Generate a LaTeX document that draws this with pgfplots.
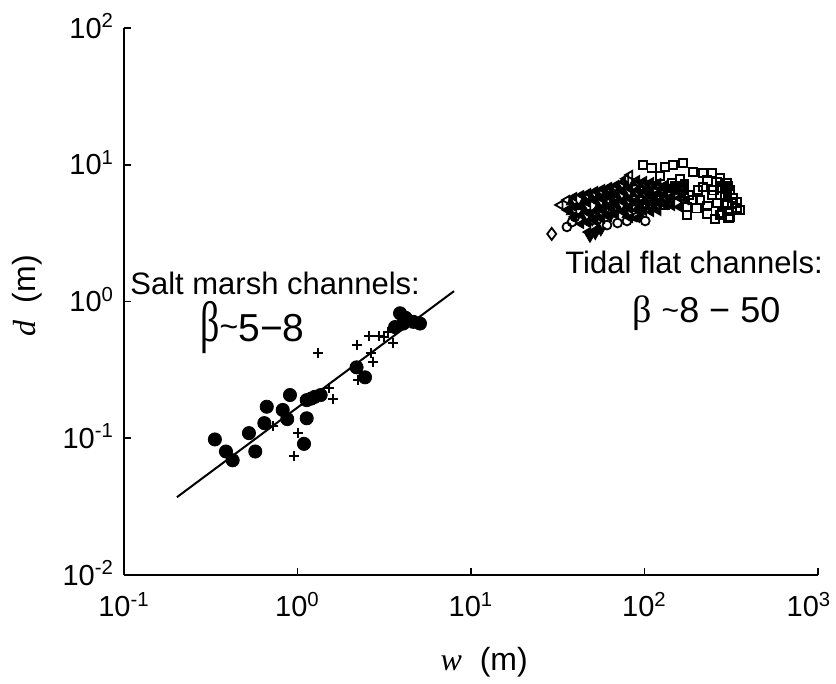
\documentclass[border=0pt]{standalone}
\usepackage{fontspec}
\setmainfont{Liberation Sans}
\newfontfamily\serif{Liberation Serif}
\usepackage{graphicx}
\usepackage{pgfplots}
\pgfplotsset{compat=1.18}

\begin{document}
\begin{tikzpicture}
\useasboundingbox (0,0) rectangle (418pt,342pt);
\begin{axis}[
  at={(62pt,54.5pt)}, anchor=south west,
  scale only axis, width=347pt, height=273.5pt,
  xmode=log, ymode=log,
  xmin=0.1, xmax=1000, ymin=0.01, ymax=100,
  axis x line=bottom, axis y line=left,
  axis line style={-, line width=1pt},
  tick style={black, line width=0.9pt},
  tick align=inside, major tick length=3.5pt,
  xminorticks=false, yminorticks=false,
  xtick={0.1,1,10,100,1000}, ytick={0.01,0.1,1,10,100},
  xticklabels={10\textsuperscript{-1},10\textsuperscript{0},10\textsuperscript{1},10\textsuperscript{2},\hspace*{-9pt}10\textsuperscript{3}},
  yticklabels={10\textsuperscript{-2},10\textsuperscript{-1},10\textsuperscript{0},10\textsuperscript{1},10\textsuperscript{2}},
  tick label style={font=\fontsize{14.5}{16}\selectfont},
  xticklabel style={yshift=-5pt},
  yticklabel style={xshift=-1.5pt, yshift=1pt},
  xlabel={{\serif\itshape w}\ \ (m)},
  ylabel={{\serif\itshape d}\ \ (m)},
  label style={font=\fontsize{16}{18}\selectfont},
  xlabel style={at={(axis description cs:0.519,-0.159)}, anchor=center},
  ylabel style={at={(axis description cs:-0.140,0.510)}, anchor=center},
  clip=false,
]
% salt marsh: filled circles
\addplot[only marks, mark=*, mark size=3.3pt, black] coordinates {
 (0.334,0.098) (0.387,0.080) (0.423,0.069) (0.525,0.109) (0.571,0.080)
 (0.644,0.129) (0.665,0.170) (0.822,0.161) (0.873,0.138) (0.905,0.207)
 (1.13,0.140) (1.13,0.190) (1.26,0.201) (1.36,0.207) (1.09,0.091)
 (2.19,0.330) (2.45,0.279) (3.90,0.82) (4.07,0.69) (4.65,0.71)
 (5.08,0.69) (3.65,0.65) (4.2,0.76) (1.2,0.195)};
% salt marsh: plus
\addplot[only marks, mark=+, mark size=2.5pt, black, line width=1pt] coordinates {
 (1.32,0.418) (2.21,0.481) (2.59,0.56) (2.96,0.56) (3.15,0.55)
 (3.54,0.50) (2.64,0.42) (2.71,0.363) (2.24,0.267) (1.52,0.232)
 (1.61,0.193) (1.01,0.109) (0.955,0.074) (0.726,0.122) (3.33,0.60)};
% fit line
\addplot[black, line width=1pt] coordinates {(0.202,0.0371) (7.98,1.19)};

% tidal flat: left triangles (dense core)
\addplot[only marks, mark=triangle*, mark size=2.3pt, black, line width=0.8pt,
  mark options={rotate=90}] coordinates {
 (35.7,4.67) (39.2,5.81) (39.2,4.91) (39.2,4.15)
 (43.1,6.01) (43.1,5.08) (43.1,4.29) (43.1,3.69)
 (47.2,6.21) (47.2,5.25) (47.2,4.44) (47.2,3.75) (47.2,3.22)
 (51.9,6.43) (51.9,5.43) (51.9,4.59) (51.9,3.88) (51.9,3.33)
 (56.9,6.65) (56.9,5.62) (56.9,4.75) (56.9,4.01)
 (62.4,6.88) (62.4,5.81) (62.4,4.91) (62.4,4.15)
 (68.5,7.11) (68.5,6.01) (68.5,5.08) (68.5,4.29)
 (75.2,7.48) (75.2,6.32) (75.2,5.34) (75.2,4.51)
 (82.4,6.65) (82.4,5.62) (82.4,4.75) (82.4,4.08)
 (90.5,7.73) (90.5,6.54) (90.5,5.52) (90.5,4.67) (90.5,4.08)
 (99.3,7.60) (99.3,6.43) (99.3,5.43) (99.3,4.59)
 (109,7.48) (109,6.32) (109,5.34) (109,4.51)
 (120,7.36) (120,6.21) (120,5.25) (120,4.59)
 (131,7.11) (131,6.01) (131,5.08)
 (144,7.00) (144,5.91) (144,4.99)
 (158,6.76) (158,5.71) (158,4.91)
 (173,6.54) (173,5.52)};
% tidal flat: open left triangles at the edges
\addplot[only marks, mark=triangle, mark size=2.4pt, black, line width=0.9pt,
  mark options={rotate=90}] coordinates {
 (32.6,5.08) (35.7,5.52) (82.4,8.41) (78,7.9) (58,4.6) (95,5.2) (125,6.6)};
% tidal flat: filled triangles
\addplot[only marks, mark=triangle*, mark size=2.5pt, black] coordinates {
 (37.5,5.3) (37.5,4.5) (41,4.9) (45.1,5.6) (45.1,4.7) (45.1,3.9)
 (49.5,5.8) (49.5,4.1) (54.3,6.0) (54.3,5.0) (54.3,4.2) (54.3,3.5)
 (59.5,6.2) (59.5,5.2) (59.5,4.4)
 (65.4,6.4) (65.4,5.4) (65.4,4.5) (71.5,6.7) (71.5,5.6) (71.5,4.7)
 (78.7,7.0) (78.7,5.9) (78.7,5.0) (78.7,4.3) (86,7.3) (86,6.1) (86,5.2)
 (94.8,7.1) (94.8,6.0) (94.8,5.0) (94.8,4.3) (104,7.0) (104,5.9) (104,4.9)
 (114,6.9) (114,5.8) (114,4.9) (125,6.7) (125,5.6) (137,6.5) (137,5.5)
 (150,6.3) (165,6.0)};
\addplot[only marks, mark=triangle*, mark size=2.7pt, black,
  mark options={rotate=180}] coordinates {(48.5,2.96) (52,3.1) (56,3.3)};
% tidal flat: open circles
\addplot[only marks, mark=o, mark size=2.2pt, black, line width=0.9pt] coordinates {
 (35.7,3.51) (38.2,3.81) (39.7,4.15) (42.5,3.94) (53.2,3.94)
 (60.8,3.62) (79.3,3.88) (90.5,4.15) (101,3.88) (70,3.75)};
% tidal flat: open diamonds
\addplot[only marks, mark=diamond, mark size=3pt, black, line width=0.9pt] coordinates {
 (29.2,3.12) (50,4.0) (65,4.5) (85,5.0) (110,5.5) (140,6.0) (60,6.0)};
% tidal flat: open squares
\addplot[only marks, mark=square, mark size=2.1pt, black, line width=0.9pt] coordinates {
 (98,9.96) (110,9.47) (131,9.63) (146,9.96) (167,10.3) (190,8.85)
 (217,8.71) (245,8.71) (272,8.0) (299,7.36) (311,6.54) (324,5.71)
 (341,4.83) (355,4.67) (311,4.15) (280,4.44) (262,5.25) (299,5.08)
 (217,6.88) (203,6.54) (209,5.52) (176,4.91) (154,5.25) (167,6.54)
 (123,8.27) (115,6.32) (131,5.08) (291,6.01) (272,4.29) (305,4.08)
 (190,5.52) (176,4.29) (144,7.36) (272,6.76) (245,6.0) (230,7.7)
 (120,5.5) (140,6.2) (100,7.0) (160,7.8) (180,6.0) (200,4.8)
 (230,5.0) (250,6.5) (260,7.5) (280,6.8) (320,5.2) (300,4.6)
 (340,5.3) (255,4.0) (230,4.4)};
\addplot[only marks, mark=square*, mark size=2.1pt, black] coordinates {
 (290,6.6) (305,7.0) (300,6.0) (150,7.0) (170,7.3)};

% annotations
\node[anchor=base west, inner sep=0, font=\fontsize{15.5}{18}\selectfont]
  at (rel axis cs:0.0086,0.512) {Salt marsh channels:};
\node[anchor=base west, inner sep=0, font=\fontsize{19.5}{24}\selectfont]
  at (rel axis cs:0.1095,0.426)
  {\scalebox{1}[1.5]{\fontsize{19}{22}\selectfont\serif β}\raisebox{2pt}{\fontsize{16}{18}\selectfont\textasciitilde}5−8};
\draw[line width=0.9pt] (rel axis cs:0.5965,0.5704) ++(0,3.2pt) -- ++(2.2pt,-3.2pt)
  -- ++(-2.2pt,-3.2pt) -- ++(-2.2pt,3.2pt) -- cycle;
\node[anchor=base west, inner sep=0, font=\fontsize{15.5}{18}\selectfont]
  at (rel axis cs:0.6354,0.5503) {Tidal flat channels:};
\node[anchor=base west, inner sep=0, font=\fontsize{18}{22}\selectfont]
  at (rel axis cs:0.732,0.4625)
  {{\fontsize{19}{22}\selectfont\serif β}\ \raisebox{1pt}{\fontsize{15}{18}\selectfont\textasciitilde}8 − 50};
\end{axis}
\end{tikzpicture}
\end{document}
